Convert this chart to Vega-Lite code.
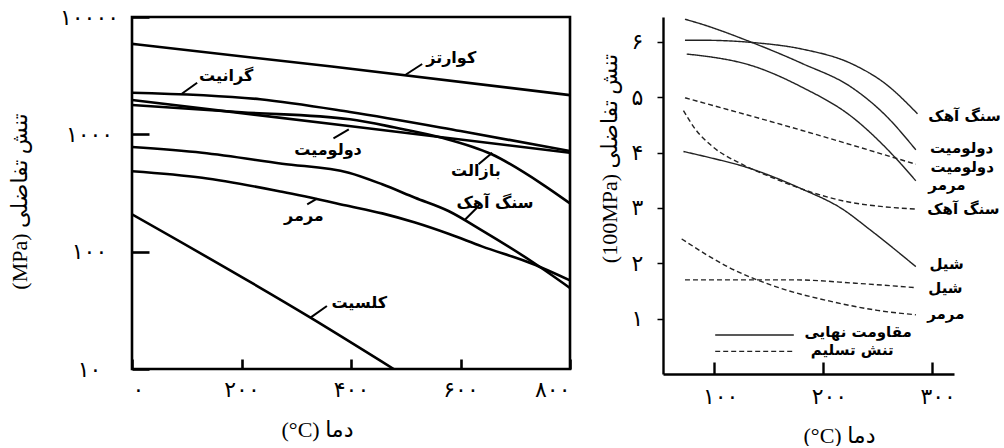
{
  "$schema": "https://vega.github.io/schema/vega-lite/v6.json",
  "background": "white",
  "padding": {"left": 6, "top": 4, "right": 0, "bottom": 0},
  "bounds": "flush",
  "spacing": 93,
  "config": {
    "view": {"stroke": null},
    "axis": {"grid": false, "labelColor": "black", "titleColor": "black", "domainColor": "black", "tickColor": "black", "labelOverlap": false}
  },
  "datasets": {
    "leftLines": [
      {"s": "quartz", "t": 0, "v": 5900}, {"s": "quartz", "t": 365, "v": 3780}, {"s": "quartz", "t": 800, "v": 2160},
      {"s": "granite", "t": 0, "v": 2264}, {"s": "granite", "t": 234, "v": 1990}, {"s": "granite", "t": 398, "v": 1550}, {"s": "granite", "t": 600, "v": 1067}, {"s": "granite", "t": 800, "v": 721},
      {"s": "dolomite", "t": 0, "v": 1963}, {"s": "dolomite", "t": 400, "v": 1170}, {"s": "dolomite", "t": 800, "v": 697},
      {"s": "basalt", "t": 0, "v": 1780}, {"s": "basalt", "t": 200, "v": 1542}, {"s": "basalt", "t": 398, "v": 1343}, {"s": "basalt", "t": 480, "v": 1143}, {"s": "basalt", "t": 566, "v": 935}, {"s": "basalt", "t": 657, "v": 676}, {"s": "basalt", "t": 749, "v": 377}, {"s": "basalt", "t": 800, "v": 258},
      {"s": "limestone", "t": 0, "v": 780}, {"s": "limestone", "t": 128, "v": 697}, {"s": "limestone", "t": 274, "v": 562}, {"s": "limestone", "t": 396, "v": 471}, {"s": "limestone", "t": 457, "v": 375}, {"s": "limestone", "t": 517, "v": 288}, {"s": "limestone", "t": 578, "v": 222}, {"s": "limestone", "t": 639, "v": 152}, {"s": "limestone", "t": 731, "v": 82}, {"s": "limestone", "t": 800, "v": 49},
      {"s": "marble", "t": 0, "v": 485}, {"s": "marble", "t": 128, "v": 427}, {"s": "marble", "t": 274, "v": 324}, {"s": "marble", "t": 396, "v": 245}, {"s": "marble", "t": 457, "v": 212}, {"s": "marble", "t": 517, "v": 177}, {"s": "marble", "t": 578, "v": 142}, {"s": "marble", "t": 639, "v": 111}, {"s": "marble", "t": 731, "v": 79}, {"s": "marble", "t": 800, "v": 57},
      {"s": "calcite", "t": 0, "v": 208}, {"s": "calcite", "t": 326, "v": 27.4}, {"s": "calcite", "t": 478, "v": 10}
    ],
    "leftLeaders": [
      {"t1": 499, "v1": 3204, "t2": 530, "v2": 3975},
      {"t1": 91, "v1": 2219, "t2": 119, "v2": 2754},
      {"t1": 368, "v1": 925, "t2": 396, "v2": 1104},
      {"t1": 633, "v1": 556, "t2": 658, "v2": 698},
      {"t1": 609, "v1": 189, "t2": 630, "v2": 237},
      {"t1": 320, "v1": 253, "t2": 338, "v2": 283},
      {"t1": 326, "v1": 27.4, "t2": 356, "v2": 34.4}
    ],
    "leftLabels": [
      {"label": "کوارتز", "t": 583, "v": 4475},
      {"label": "گرانیت", "t": 172, "v": 3141},
      {"label": "دولومیت", "t": 358, "v": 736},
      {"label": "بازالت", "t": 628, "v": 487},
      {"label": "سنگ آهک", "t": 663, "v": 260},
      {"label": "مرمر", "t": 314, "v": 201},
      {"label": "کلسیت", "t": 415, "v": 36.5}
    ],
    "rightLines": [
      {"s": "A", "k": "solid", "t": 73.2, "p": 6.03}, {"s": "A", "k": "solid", "t": 88.7, "p": 6.03}, {"s": "A", "k": "solid", "t": 134.8, "p": 5.99}, {"s": "A", "k": "solid", "t": 181, "p": 5.87}, {"s": "A", "k": "solid", "t": 227.1, "p": 5.6}, {"s": "A", "k": "solid", "t": 257.8, "p": 5.24}, {"s": "A", "k": "solid", "t": 287.1, "p": 4.7},
      {"s": "B", "k": "solid", "t": 73.2, "p": 6.41}, {"s": "B", "k": "solid", "t": 88.7, "p": 6.32}, {"s": "B", "k": "solid", "t": 134.8, "p": 5.99}, {"s": "B", "k": "solid", "t": 181, "p": 5.61}, {"s": "B", "k": "solid", "t": 227.1, "p": 5.17}, {"s": "B", "k": "solid", "t": 257.8, "p": 4.67}, {"s": "B", "k": "solid", "t": 285.5, "p": 4.05},
      {"s": "C", "k": "solid", "t": 74.8, "p": 5.78}, {"s": "C", "k": "solid", "t": 88.7, "p": 5.75}, {"s": "C", "k": "solid", "t": 134.8, "p": 5.57}, {"s": "C", "k": "solid", "t": 181, "p": 5.18}, {"s": "C", "k": "solid", "t": 227.1, "p": 4.64}, {"s": "C", "k": "solid", "t": 257.8, "p": 4.09}, {"s": "C", "k": "solid", "t": 285.5, "p": 3.49},
      {"s": "F", "k": "solid", "t": 71.8, "p": 4.02}, {"s": "F", "k": "solid", "t": 98, "p": 3.9}, {"s": "F", "k": "solid", "t": 125.6, "p": 3.76}, {"s": "F", "k": "solid", "t": 181, "p": 3.34}, {"s": "F", "k": "solid", "t": 218, "p": 2.98}, {"s": "F", "k": "solid", "t": 242.5, "p": 2.62}, {"s": "F", "k": "solid", "t": 285.5, "p": 1.94},
      {"s": "D", "k": "dashed", "t": 73.2, "p": 4.99}, {"s": "D", "k": "dashed", "t": 181, "p": 4.4}, {"s": "D", "k": "dashed", "t": 285.5, "p": 3.79},
      {"s": "E", "k": "dashed", "t": 71.8, "p": 4.76}, {"s": "E", "k": "dashed", "t": 82.5, "p": 4.43}, {"s": "E", "k": "dashed", "t": 97.9, "p": 4.12}, {"s": "E", "k": "dashed", "t": 125.6, "p": 3.79}, {"s": "E", "k": "dashed", "t": 153.3, "p": 3.55}, {"s": "E", "k": "dashed", "t": 181, "p": 3.34}, {"s": "E", "k": "dashed", "t": 218, "p": 3.13}, {"s": "E", "k": "dashed", "t": 257, "p": 3.02}, {"s": "E", "k": "dashed", "t": 285.5, "p": 2.98},
      {"s": "G", "k": "dashed", "t": 73.2, "p": 1.7}, {"s": "G", "k": "dashed", "t": 175, "p": 1.7}, {"s": "G", "k": "dashed", "t": 230, "p": 1.64}, {"s": "G", "k": "dashed", "t": 285.5, "p": 1.56},
      {"s": "H", "k": "dashed", "t": 70.2, "p": 2.44}, {"s": "H", "k": "dashed", "t": 113.3, "p": 1.93}, {"s": "H", "k": "dashed", "t": 159.4, "p": 1.56}, {"s": "H", "k": "dashed", "t": 205.6, "p": 1.32}, {"s": "H", "k": "dashed", "t": 250, "p": 1.15}, {"s": "H", "k": "dashed", "t": 285.5, "p": 1.07}
    ],
    "rightLegend": [
      {"k": "solid", "t1": 101, "t2": 173.3, "p": 0.705, "label": "مقاومت نهایی", "tl": 232.4, "pl": 0.75},
      {"k": "dashed", "t1": 101, "t2": 173.3, "p": 0.408, "label": "تنش تسلیم", "tl": 227, "pl": 0.44}
    ],
    "rightLabels": [
      {"label": "سنگ آهک", "t": 297, "p": 4.67},
      {"label": "دولومیت", "t": 298.5, "p": 4.08},
      {"label": "دولومیت", "t": 299, "p": 3.74},
      {"label": "مرمر", "t": 297, "p": 3.42},
      {"label": "سنگ آهک", "t": 296, "p": 2.98},
      {"label": "شیل", "t": 298, "p": 1.99},
      {"label": "شیل", "t": 297, "p": 1.55},
      {"label": "مرمر", "t": 296, "p": 1.08}
    ]
  },
  "hconcat": [
    {
      "width": 438,
      "height": 352,
      "view": {"stroke": "black", "strokeWidth": 2.6},
      "layer": [
        {
          "data": {"name": "leftLines"},
          "mark": {"type": "line", "interpolate": "monotone", "color": "black", "strokeWidth": 2.6, "clip": true},
          "encoding": {
            "x": {
              "field": "t", "type": "quantitative",
              "scale": {"domain": [0, 800], "nice": false},
              "axis": {
                "values": [0, 200, 400, 600, 800],
                "labelExpr": "datum.value == 0 ? '۰' : datum.value == 200 ? '۲۰۰' : datum.value == 400 ? '۴۰۰' : datum.value == 600 ? '۶۰۰' : '۸۰۰'",
                "domain": false, "tickSize": -10, "tickWidth": 2.6,
                "labelPadding": 30, "labelBaseline": "middle", "labelFlush": true,
                "labelFont": "DejaVu Sans", "labelFontSize": 22,
                "title": "(°C) دما", "titleFont": "Liberation Serif, DejaVu Sans", "titleFontSize": 22, "titleFontWeight": "normal",
                "titleX": 185, "titleY": 60, "titleAlign": "center", "titleBaseline": "middle"
              }
            },
            "y": {
              "field": "v", "type": "quantitative",
              "scale": {"type": "log", "domain": [10, 10000], "nice": false},
              "axis": {
                "values": [10, 100, 1000, 10000],
                "labelExpr": "datum.value == 10 ? '۱۰' : datum.value == 100 ? '۱۰۰' : datum.value == 1000 ? '۱۰۰۰' : '۱۰۰۰۰'",
                "domain": false, "tickSize": -17, "tickWidth": 2.6,
                "labelPadding": 60, "labelAlign": "center", "labelBaseline": "middle", "labelFlush": false,
                "labelFont": "DejaVu Sans", "labelFontSize": 22,
                "title": "(MPa) تنش تفاضلی", "titleFont": "Liberation Serif, DejaVu Sans", "titleFontSize": 22, "titleFontWeight": "normal",
                "titleAngle": -90, "titleX": -113, "titleY": 184, "titleAlign": "center", "titleBaseline": "middle"
              }
            },
            "detail": {"field": "s"}
          }
        },
        {
          "data": {"name": "leftLeaders"},
          "mark": {"type": "rule", "color": "black", "strokeWidth": 2},
          "encoding": {
            "x": {"field": "t1", "type": "quantitative"},
            "y": {"field": "v1", "type": "quantitative"},
            "x2": {"field": "t2"},
            "y2": {"field": "v2"}
          }
        },
        {
          "data": {"name": "leftLabels"},
          "mark": {"type": "text", "font": "DejaVu Sans", "fontSize": 16, "fontWeight": "bold", "color": "black", "align": "center", "baseline": "middle"},
          "encoding": {
            "x": {"field": "t", "type": "quantitative"},
            "y": {"field": "v", "type": "quantitative"},
            "text": {"field": "label"}
          }
        }
      ]
    },
    {
      "width": 291,
      "height": 357,
      "layer": [
        {
          "data": {"name": "rightLines"},
          "mark": {"type": "line", "interpolate": "monotone", "color": "#222", "strokeWidth": 1.4},
          "encoding": {
            "x": {
              "field": "t", "type": "quantitative",
              "scale": {"domain": [53, 320.6], "nice": false, "zero": false},
              "axis": {
                "values": [100, 200, 300],
                "labelExpr": "datum.value == 100 ? '۱۰۰' : datum.value == 200 ? '۲۰۰' : '۳۰۰'",
                "domainWidth": 2.4, "tickSize": -12, "tickWidth": 2.4,
                "labelPadding": 34, "labelBaseline": "middle", "labelFlush": false, "labelOffset": 6,
                "labelFont": "DejaVu Sans", "labelFontSize": 22,
                "title": "(°C) دما", "titleFont": "Liberation Serif, DejaVu Sans", "titleFontSize": 22, "titleFontWeight": "normal",
                "titleX": 176, "titleY": 61, "titleAlign": "center", "titleBaseline": "middle"
              }
            },
            "y": {
              "field": "p", "type": "quantitative",
              "scale": {"domain": [0, 6.45], "nice": false},
              "axis": {
                "values": [1, 2, 3, 4, 5, 6],
                "labelExpr": "datum.value == 1 ? '۱' : datum.value == 2 ? '۲' : datum.value == 3 ? '۳' : datum.value == 4 ? '۴' : datum.value == 5 ? '۵' : '۶'",
                "domainWidth": 2.4, "tickSize": 6, "tickWidth": 1.5,
                "labelPadding": 20, "labelAlign": "center", "labelBaseline": "middle", "labelFlush": false,
                "labelFont": "DejaVu Sans", "labelFontSize": 22,
                "title": "(100MPa) تنش تفاضلی", "titleFont": "Liberation Serif, DejaVu Sans", "titleFontSize": 22, "titleFontWeight": "normal",
                "titleAngle": -90, "titleX": -54, "titleY": 141, "titleAlign": "center", "titleBaseline": "middle"
              }
            },
            "detail": {"field": "s"},
            "strokeDash": {"field": "k", "type": "nominal", "scale": {"domain": ["solid", "dashed"], "range": [[1, 0], [5, 3]]}, "legend": null}
          }
        },
        {
          "data": {"name": "rightLegend"},
          "mark": {"type": "rule", "color": "#222", "strokeWidth": 1.4},
          "encoding": {
            "x": {"field": "t1", "type": "quantitative"},
            "x2": {"field": "t2"},
            "y": {"field": "p", "type": "quantitative"},
            "strokeDash": {"field": "k", "type": "nominal", "legend": null}
          }
        },
        {
          "data": {"name": "rightLegend"},
          "mark": {"type": "text", "font": "DejaVu Sans", "fontSize": 15, "fontWeight": "bold", "color": "black", "align": "center", "baseline": "middle"},
          "encoding": {
            "x": {"field": "tl", "type": "quantitative"},
            "y": {"field": "pl", "type": "quantitative"},
            "text": {"field": "label"}
          }
        },
        {
          "data": {"name": "rightLabels"},
          "mark": {"type": "text", "font": "DejaVu Sans", "fontSize": 15, "fontWeight": "bold", "color": "black", "align": "left", "baseline": "middle"},
          "encoding": {
            "x": {"field": "t", "type": "quantitative"},
            "y": {"field": "p", "type": "quantitative"},
            "text": {"field": "label"}
          }
        }
      ]
    }
  ]
}
